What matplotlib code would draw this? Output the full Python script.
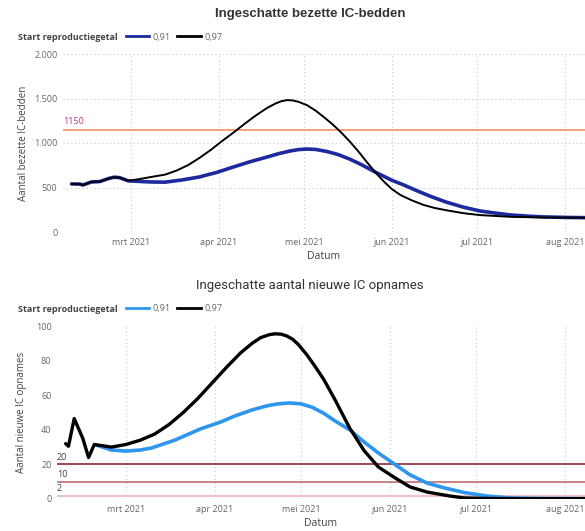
#!/usr/bin/env python3
"""
Recreate the two Power BI style charts: estimated IC beds and new IC admissions.
"""

import pandas as pd
import matplotlib.pyplot as plt
from matplotlib.lines import Line2D
from matplotlib.ticker import FuncFormatter

# --- data: occupied IC beds -------------------------------------------------
beds_091_dates = ["2021-02-08", "2021-02-11", "2021-02-12", "2021-02-15", "2021-02-18",
                  "2021-02-21", "2021-02-23", "2021-02-25", "2021-02-28", "2021-03-04",
                  "2021-03-08", "2021-03-13", "2021-03-19", "2021-03-25", "2021-03-31",
                  "2021-04-06", "2021-04-12", "2021-04-18", "2021-04-22", "2021-04-26",
                  "2021-04-29", "2021-05-02", "2021-05-05", "2021-05-09", "2021-05-13",
                  "2021-05-17", "2021-05-21", "2021-05-26", "2021-06-01", "2021-06-05",
                  "2021-06-10", "2021-06-15", "2021-06-20", "2021-06-26", "2021-07-02",
                  "2021-07-08", "2021-07-13", "2021-07-19", "2021-07-25", "2021-08-01",
                  "2021-08-08"]
beds_091 = [540, 538, 528, 562, 567,
            600, 616, 610, 575, 568,
            562, 560, 585, 618, 668,
            730, 790, 843, 880, 910,
            926, 932, 928, 905, 870,
            820, 760, 674, 580, 530,
            460, 395, 337, 280, 236,
            210, 191, 178, 169, 164,
            161]

beds_097_dates = ["2021-02-08", "2021-02-11", "2021-02-12", "2021-02-15", "2021-02-18",
                  "2021-02-21", "2021-02-23", "2021-02-25", "2021-02-28", "2021-03-04",
                  "2021-03-08", "2021-03-13", "2021-03-17", "2021-03-21", "2021-03-25",
                  "2021-03-29", "2021-04-02", "2021-04-06", "2021-04-10", "2021-04-14",
                  "2021-04-18", "2021-04-21", "2021-04-23", "2021-04-25", "2021-04-27",
                  "2021-04-29", "2021-05-02", "2021-05-05", "2021-05-08", "2021-05-11",
                  "2021-05-14", "2021-05-17", "2021-05-20", "2021-05-23", "2021-05-26",
                  "2021-05-29", "2021-06-01", "2021-06-04", "2021-06-08", "2021-06-12",
                  "2021-06-16", "2021-06-20", "2021-06-26", "2021-07-02", "2021-07-13",
                  "2021-07-25", "2021-08-08"]
beds_097 = [540, 538, 528, 562, 567,
            600, 616, 610, 575, 595,
            618, 645, 690, 750, 830,
            920, 1020, 1115, 1215, 1310,
            1395, 1445, 1470, 1482, 1478,
            1463, 1425, 1365, 1290, 1210,
            1120, 1020, 910, 790, 674,
            570, 480, 415, 355, 305,
            270, 245, 212, 190, 170,
            163, 160]

beds_limit = 1150

# --- data: new IC admissions ------------------------------------------------
adm_091_dates = ["2021-02-19", "2021-02-24", "2021-03-01", "2021-03-06", "2021-03-10",
                 "2021-03-18", "2021-03-27", "2021-04-03", "2021-04-08", "2021-04-14",
                 "2021-04-19", "2021-04-23", "2021-04-27", "2021-05-01", "2021-05-05",
                 "2021-05-09", "2021-05-13", "2021-05-18", "2021-05-23", "2021-05-28",
                 "2021-06-03", "2021-06-08", "2021-06-14", "2021-06-20", "2021-06-27",
                 "2021-07-05", "2021-07-13", "2021-07-25", "2021-08-08"]
adm_091 = [31, 28.3, 27.7, 28.3, 29.5,
           34, 40.5, 44.5, 48, 51.5,
           53.8, 55, 55.5, 55, 53,
           49.5, 45, 40, 33, 26.6,
           19.7, 14, 9.2, 6.4, 3.7,
           1.7, 0.6, 0.3, 0.2]

adm_097_dates = ["2021-02-08", "2021-02-09", "2021-02-11", "2021-02-14", "2021-02-16",
                 "2021-02-18", "2021-02-20", "2021-02-24", "2021-03-01", "2021-03-06",
                 "2021-03-11", "2021-03-16", "2021-03-21", "2021-03-26", "2021-03-31",
                 "2021-04-05", "2021-04-10", "2021-04-14", "2021-04-17", "2021-04-20",
                 "2021-04-22", "2021-04-24", "2021-04-26", "2021-04-28", "2021-04-30",
                 "2021-05-03", "2021-05-06", "2021-05-09", "2021-05-13", "2021-05-18",
                 "2021-05-23", "2021-05-28", "2021-06-03", "2021-06-08", "2021-06-14",
                 "2021-06-22", "2021-06-27", "2021-07-05", "2021-07-15", "2021-08-08"]
adm_097 = [32, 30.5, 46.5, 35, 24,
           31.5, 31, 30, 31.5, 34,
           37.5, 43, 50, 58, 67,
           76, 84.5, 90, 93.3, 95,
           95.5, 95.3, 94.3, 92.5, 89.5,
           83.5, 76.5, 69, 57, 41,
           28, 18.5, 12, 7, 4,
           1.7, 0.6, 0.3, 0.2, 0.2]

adm_limits = [20, 10, 2]
adm_limit_colors = ["#8E3B46", "#C4767E", "#F2B8C6"]

month_ticks = ["2021-03-01", "2021-04-01", "2021-05-01", "2021-06-01", "2021-07-01", "2021-08-01"]
month_labels = ["mrt 2021", "apr 2021", "mei 2021", "jun 2021", "jul 2021", "aug 2021"]

TICK_COLOR = "#666666"
GRID_COLOR = "#C8C8C8"
FONT = "Open Sans"

xmin, xmax = pd.Timestamp("2021-02-05"), pd.Timestamp("2021-08-08")


def dutch_thousands(v, pos):
    return f"{int(v):,}".replace(",", ".")


def style_axes(ax):
    for s in ax.spines.values():
        s.set_visible(False)
    ax.tick_params(length=0, labelsize=6.5, labelcolor=TICK_COLOR, pad=4)
    ax.set_xlim(xmin, xmax)
    ax.set_xticks(pd.to_datetime(month_ticks))
    ax.set_xticklabels(month_labels, fontfamily=FONT)
    for lbl in ax.get_yticklabels():
        lbl.set_fontfamily(FONT)
    ax.grid(axis="x", color=GRID_COLOR, linestyle=(0, (1, 2.5)), linewidth=0.8)


def add_legend(fig, y_px, color_a):
    W, H = fig.get_size_inches() * fig.dpi
    y = 1 - y_px / H
    fig.text(18 / W, y, "Start reproductiegetal", fontsize=6.5, fontweight="bold",
             color="#444444", va="center", fontfamily=FONT)
    handles = [Line2D([], [], color=color_a, lw=2), Line2D([], [], color="black", lw=2)]
    leg = fig.legend(handles, ["0,91", "0,97"], ncol=2, frameon=False,
                     loc="center left", bbox_to_anchor=(122 / W, y),
                     fontsize=6.5, handlelength=2.6, handletextpad=0.4,
                     columnspacing=0.7, borderaxespad=0)
    for t in leg.get_texts():
        t.set_color(TICK_COLOR)
        t.set_fontfamily(FONT)


fig = plt.figure(figsize=(5.85, 5.31), dpi=100)
W, H = 585, 531

# --- top chart --------------------------------------------------------------
ax1 = fig.add_axes([63 / W, 1 - 232 / H, (585 - 63) / W, (232 - 54) / H])
ax1.plot(pd.to_datetime(beds_091_dates), beds_091, color="#1C2A9E", lw=2.6,
         solid_capstyle="round", solid_joinstyle="round", zorder=3)
ax1.plot(pd.to_datetime(beds_097_dates), beds_097, color="black", lw=1.4,
         solid_capstyle="round", solid_joinstyle="round", zorder=4)
ax1.axhline(beds_limit, color="#F4A27A", lw=1.4, zorder=2)
ax1.text(pd.Timestamp("2021-02-05"), beds_limit + 45, str(beds_limit), fontsize=6.5,
         color="#C8347E", fontfamily=FONT, va="bottom", ha="left")
ax1.set_ylim(0, 2000)
ax1.set_yticks([0, 500, 1000, 1500, 2000])
ax1.yaxis.set_major_formatter(FuncFormatter(dutch_thousands))
style_axes(ax1)
ax1.grid(axis="y", color=GRID_COLOR, linestyle=(0, (1, 2.5)), linewidth=0.8)
ax1.set_ylabel("Aantal bezette IC-bedden", fontsize=7, color="#444444",
               fontfamily=FONT, labelpad=4)
ax1.set_xlabel("Datum", fontsize=7.5, color="#444444", fontfamily=FONT, labelpad=3)
fig.text(310 / W, 1 - 14 / H, "Ingeschatte bezette IC-bedden", fontsize=9.5,
         fontweight="bold", color="#333333", ha="center", va="center",
         fontfamily="Liberation Sans")
add_legend(fig, 37, "#1C2A9E")

# --- bottom chart -----------------------------------------------------------
ax2 = fig.add_axes([57 / W, 1 - 499 / H, (585 - 57) / W, (499 - 326) / H])
for level, col in zip(adm_limits, adm_limit_colors):
    ax2.axhline(level, color=col, lw=1.3, zorder=2)
    ax2.text(pd.Timestamp("2021-02-05"), level + 1.5, str(level), fontsize=6.5,
             color="#4A3A5A", fontfamily=FONT, va="bottom", ha="left")
ax2.plot(pd.to_datetime(adm_091_dates), adm_091, color="#2E96EE", lw=2.6,
         solid_capstyle="round", solid_joinstyle="round", zorder=3)
ax2.plot(pd.to_datetime(adm_097_dates), adm_097, color="black", lw=2.4,
         solid_capstyle="round", solid_joinstyle="round", zorder=4)
ax2.set_ylim(0, 100)
ax2.set_yticks([0, 20, 40, 60, 80, 100])
style_axes(ax2)
ax2.set_ylabel("Aantal nieuwe IC opnames", fontsize=7, color="#444444",
               fontfamily=FONT, labelpad=6)
ax2.set_xlabel("Datum", fontsize=7.5, color="#444444", fontfamily=FONT, labelpad=3)
fig.text(310 / W, 1 - 286 / H, "Ingeschatte aantal nieuwe IC opnames", fontsize=9.5,
         color="#333333", ha="center", va="center", fontfamily="Roboto")
add_legend(fig, 309, "#2E96EE")

fig.savefig("out.png", dpi=100)
